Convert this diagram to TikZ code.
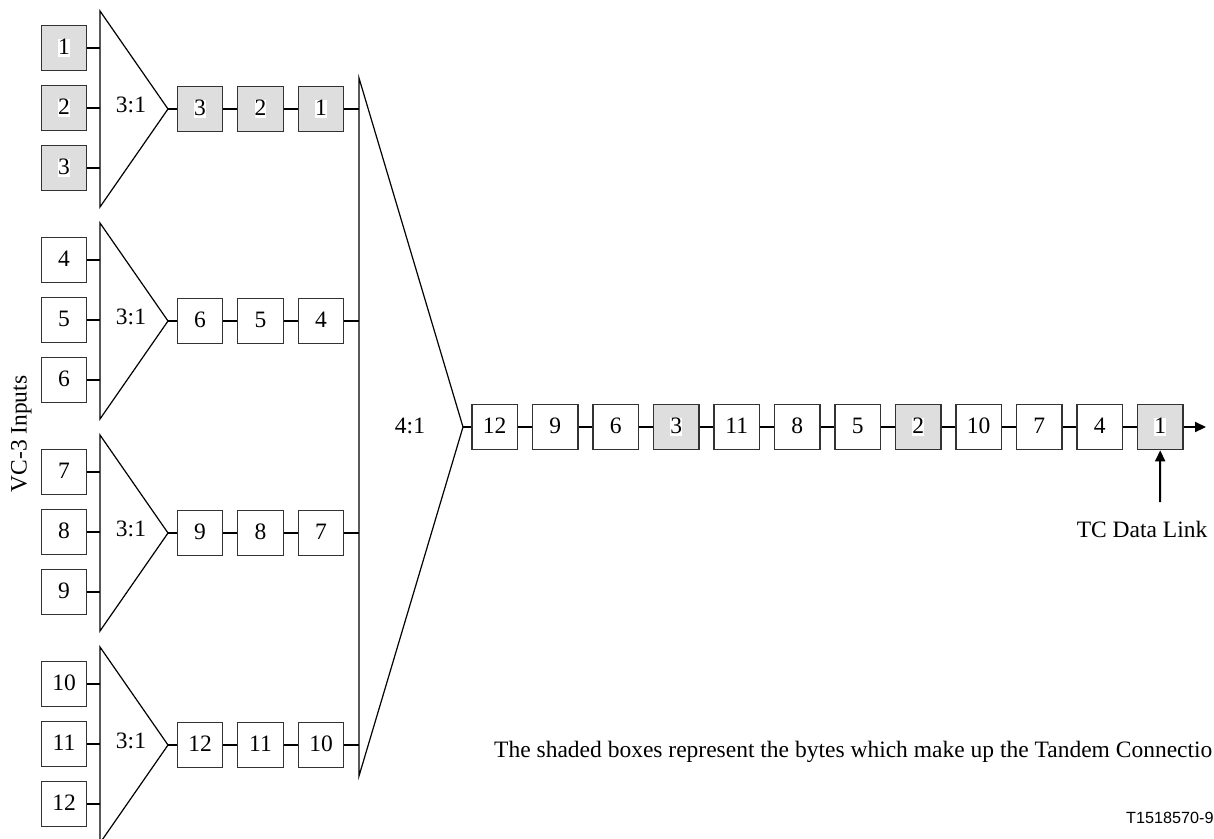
\documentclass[tikz,border=0pt]{standalone}
\usepackage{fontspec}
\setmainfont{Liberation Serif}
\newfontfamily\labsans{Liberation Sans}
\usetikzlibrary{arrows.meta}
\definecolor{shade}{HTML}{DEDEDE}
\definecolor{bord}{HTML}{333333}
\newcommand\fs{\fontsize{23.5}{28}\selectfont}
\newcommand\wb[1]{{\setlength{\fboxsep}{0pt}\colorbox{white}{\rule[-0.12em]{0pt}{0.73em}#1}}}
\tikzset{
  bx/.style={draw=bord, line width=1.2pt, minimum size=45.5pt, inner sep=0pt, font=\fs},
  conn/.style={line width=2pt},
  tri/.style={line width=1.2pt, line join=miter},
  lbl/.style={font=\fs, inner sep=0pt},
  tip/.style={-{Triangle[length=11pt,width=10pt]}, line width=2pt},
}
\begin{document}
\begin{tikzpicture}[x=1pt,y=-1pt]
\clip (0,0) rectangle (1214,838);
% groups of 3:1 multiplexers
\foreach \g in {1,...,4}{
  \pgfmathsetmacro\cy{109+212*(\g-1)}
  \ifnum\g=1 \def\fc{shade}\else\def\fc{white}\fi
  \draw[tri] (100,\cy-98) -- (100,\cy+98) -- (168,\cy) -- cycle;
  \coordinate (a\g) at (168,\cy);
  \node[lbl, anchor=base] at (131,\cy+3) {3:1};
  \foreach \k/\dy in {0/-61,1/-1,2/59}{
    \pgfmathtruncatemacro\n{3*(\g-1)+\k+1}
    \node[bx, fill=\fc] (i\n) at (64,\cy+\dy) {\wb{\n}};
    \coordinate (s\n) at (100,\cy+\dy);
    \draw[conn] (i\n.east) -- (s\n);
  }
  \pgfmathtruncatemacro\na{3*\g}
  \pgfmathtruncatemacro\nb{3*\g-1}
  \pgfmathtruncatemacro\nc{3*\g-2}
  \node[bx, fill=\fc] (m\na) at (200,\cy) {\wb{\na}};
  \node[bx, fill=\fc] (m\nb) at (260.5,\cy) {\wb{\nb}};
  \node[bx, fill=\fc] (m\nc) at (321,\cy) {\wb{\nc}};
  \coordinate (t\g) at (359,\cy);
  \draw[conn] (a\g) -- (m\na.west);
  \draw[conn] (m\na.east) -- (m\nb.west);
  \draw[conn] (m\nb.east) -- (m\nc.west);
  \draw[conn] (m\nc.east) -- (t\g);
}
% 4:1 multiplexer
\draw[tri] (359,78) -- (359,776) -- (463,427) -- cycle;
\coordinate (A) at (463,427);
\node[lbl, anchor=base] at (410,433) {4:1};
% output stream
\foreach \n [count=\k from 0] in {12,9,6,3,11,8,5,2,10,7,4,1}{
  \ifnum\n<4 \def\fc{shade}\else\def\fc{white}\fi
  \node[bx, fill=\fc] (r\n) at (494.7+60.5*\k,427) {\wb{\n}};
}
\draw[conn] (A) -- (r12.west);
\foreach \a/\b in {12/9,9/6,6/3,3/11,11/8,8/5,5/2,2/10,10/7,7/4,4/1}{
  \draw[conn] (r\a.east) -- (r\b.west);
}
\coordinate (out) at (1206,427);
\draw[tip] (r1.east) -- (out);
\coordinate (tc) at (1160,502);
\draw[tip] (tc) -- (r1.south);
\node[lbl, anchor=base] (tcl) at (1142,537) {TC Data Link};
% texts
\node[lbl, anchor=base, rotate=90] (vc) at (26.5,434) {VC-3 Inputs};
\node[lbl, anchor=base west] (note) at (494,757) {The shaded boxes represent the bytes which make up the Tandem Connectio};
\node[inner sep=0pt, anchor=base west, font=\labsans\fontsize{16.2}{20}\selectfont] (ref) at (1126,823) {T1518570-9};
\end{tikzpicture}
\end{document}
